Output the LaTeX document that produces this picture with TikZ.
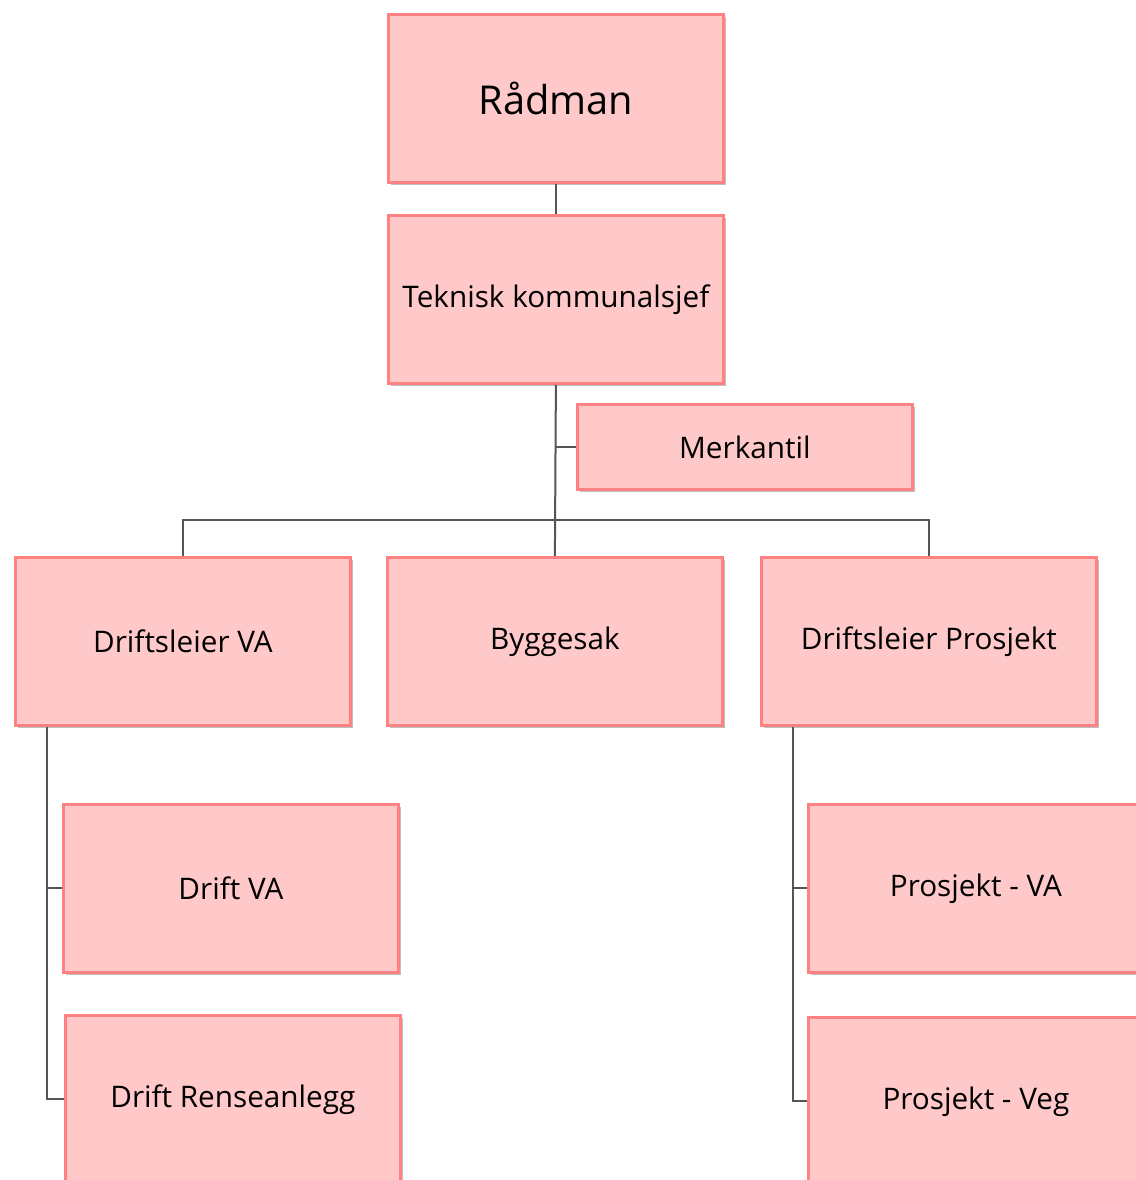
\documentclass[tikz,border=0pt]{standalone}
\usepackage{fontspec}
\setmainfont{Open Sans}
\usetikzlibrary{shadows}
\definecolor{boxfill}{HTML}{FFC9C9}
\definecolor{boxline}{HTML}{FF8282}
\definecolor{conncol}{HTML}{555555}
\tikzset{
  orgbox/.style={draw=boxline, fill=boxfill, line width=1.4pt, anchor=north west,
    minimum width=167.5pt, minimum height=84pt, inner sep=0pt,
    font=\fontsize{14.85}{17}\selectfont, text=black,
    drop shadow={opacity=0.25, shadow xshift=1.2pt, shadow yshift=-1.2pt, fill=black}},
  conn/.style={draw=conncol, line width=1pt}
}
\begin{document}
\begin{tikzpicture}[x=0.5pt,y=-0.5pt]
\useasboundingbox (0,0) rectangle (1136,1180);
\clip (0,0) rectangle (1136,1180);
\fill[white] (0,0) rectangle (1136,1180);
\node[orgbox, font=\fontsize{19.9}{23}\selectfont] (rad) at (387,13) {Rådman};
\node[orgbox] (tek) at (387,214) {Teknisk kommunalsjef};
\node[orgbox, minimum height=42.5pt] (mer) at (576,403) {Merkantil};
\node[orgbox] (dva) at (14,556) {Driftsleier VA};
\node[orgbox] (byg) at (386,556) {Byggesak};
\node[orgbox] (dpr) at (760,556) {Driftsleier Prosjekt};
\node[orgbox] (dva1) at (62,803) {Drift VA};
\node[orgbox] (dva2) at (64,1014) {Drift Renseanlegg};
\node[orgbox] (dpr1) at (807,803) {Prosjekt - VA};
\node[orgbox] (dpr2) at (807,1016) {Prosjekt - Veg};
\draw[conn] (rad.south) -- (tek.north);
\draw[conn] (tek.south) -- (byg.north);
\draw[conn] (tek.south |- mer.west) -- (mer.west);
\draw[conn] (dva.north) -- ++(0,-36) -| (dpr.north);
\draw[conn] ([xshift=16.5pt]dva.south west) |- (dva1.west);
\draw[conn] ([xshift=16.5pt]dva.south west) |- (dva2.west);
\draw[conn] ([xshift=16.5pt]dpr.south west) |- (dpr1.west);
\draw[conn] ([xshift=16.5pt]dpr.south west) |- (dpr2.west);
\end{tikzpicture}
\end{document}
